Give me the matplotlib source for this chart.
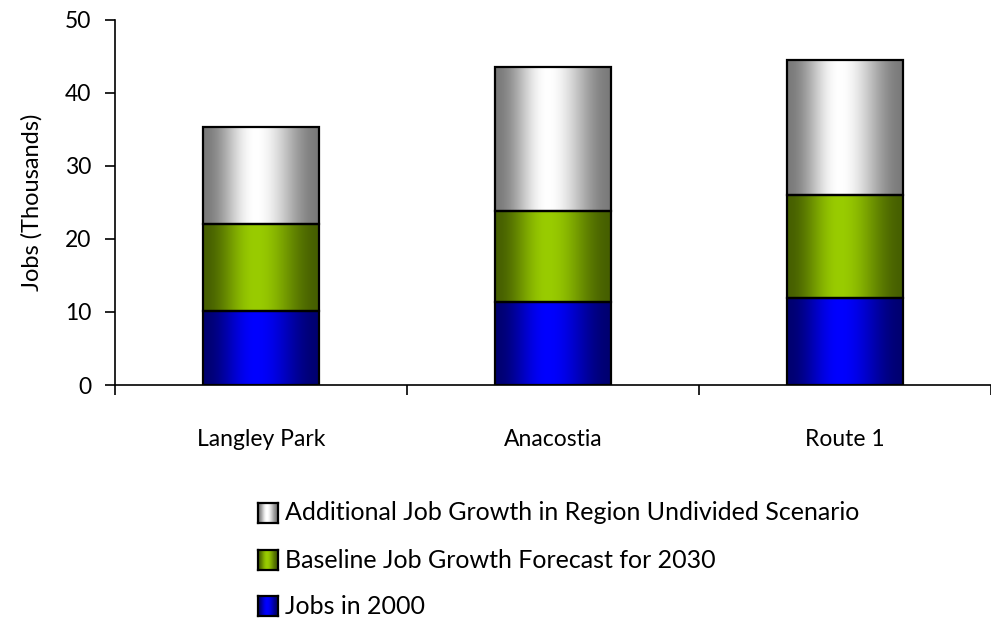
import numpy as np
import matplotlib.pyplot as plt
from matplotlib.colors import to_rgb

plt.rcParams['font.family'] = ['Lato', 'DejaVu Sans']

# дані графіка
areas = ['Langley Park', 'Anacostia', 'Route 1']
jobs_2000 = [10.1, 11.4, 11.9]
baseline_growth = [12.0, 12.4, 14.1]
additional_growth = [13.2, 19.8, 18.5]

series_names = ['Jobs in 2000',
                'Baseline Job Growth Forecast for 2030',
                'Additional Job Growth in Region Undivided Scenario']
# (колір краю, колір центру) для градієнта
series_colors = [('#000070', '#0000ff'),
                 ('#465f00', '#99cc00'),
                 ('#7a7a7a', '#ffffff')]


def gradient_img(edge, center, n=200, peak=0.45):
    t = np.linspace(0, 1, n)
    d = np.where(t < peak, (peak - t) / peak, (t - peak) / (1 - peak))
    w = 0.5 * (1 + np.cos(np.pi * np.clip(d, 0, 1)))
    e = np.array(to_rgb(edge))
    c = np.array(to_rgb(center))
    row = e[None, :] + (c - e)[None, :] * w[:, None]
    return row[None, :, :]


def gradient_bar(ax, bar, edge, center):
    x, y = bar.get_x(), bar.get_y()
    w, h = bar.get_width(), bar.get_height()
    ax.imshow(gradient_img(edge, center), extent=(x, x + w, y, y + h),
              aspect='auto', zorder=2, interpolation='bilinear')
    bar.set_facecolor('none')
    bar.set_zorder(3)


fig = plt.figure(figsize=(9.91, 6.22), dpi=100)
ax = fig.add_axes([115 / 991, 237 / 622, 1 - 115 / 991, 365 / 622])

x = np.arange(len(areas)) + 0.5
bottom = np.zeros(len(areas))
for vals, (edge, center) in zip([jobs_2000, baseline_growth, additional_growth], series_colors):
    bars = ax.bar(x, vals, width=0.4, bottom=bottom, edgecolor='black', linewidth=1.6)
    for b in bars:
        gradient_bar(ax, b, edge, center)
    bottom += np.array(vals)

ax.set_xlim(0, len(areas))
ax.set_ylim(0, 50)
ax.set_yticks(range(0, 51, 10))
ax.set_xticks(range(0, len(areas) + 1))
ax.set_xticklabels([])
ax.set_xticks(x, minor=True)
ax.set_xticklabels(areas, minor=True, fontsize=16.5)
ax.tick_params(axis='x', which='minor', length=0, pad=32)
ax.tick_params(axis='x', which='major', length=7, width=1.2, direction='out')
ax.tick_params(axis='y', length=7, width=1.2, labelsize=16.5, pad=10)
ax.set_ylabel('Jobs (Thousands)', fontsize=17, labelpad=16)
for s in ['top', 'right']:
    ax.spines[s].set_visible(False)
for s in ['left', 'bottom']:
    ax.spines[s].set_linewidth(1.2)

# легенда вручну, щоб зберегти градієнт у маркерах
rows_y = [606, 560, 513]
for name, (edge, center), py in zip(series_names, series_colors, rows_y):
    lax = fig.add_axes([258 / 991, 1 - (py + 10) / 622, 20 / 991, 20 / 622])
    lax.imshow(gradient_img(edge, center), aspect='auto', extent=(0, 1, 0, 1))
    lax.set_xticks([])
    lax.set_yticks([])
    for sp in lax.spines.values():
        sp.set_linewidth(1.6)
    fig.text(285 / 991, 1 - py / 622, name, fontsize=18, va='center', ha='left')

fig.savefig('out.png', dpi=100)
